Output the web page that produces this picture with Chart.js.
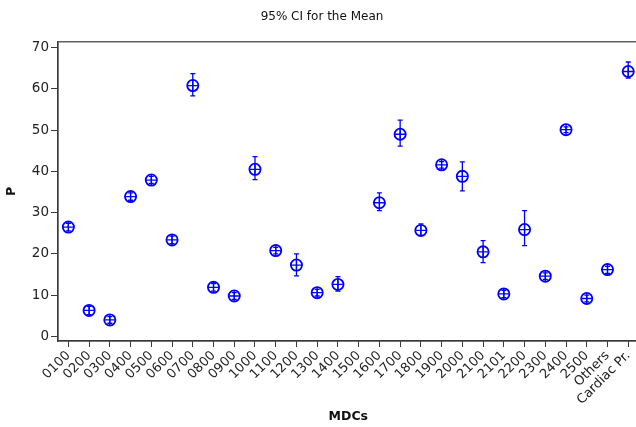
<!DOCTYPE html>
<html>
<head>
<meta charset="utf-8">
<script src="https://cdn.jsdelivr.net/npm/chart.js@4"></script>
<style>
  html, body { margin: 0; padding: 0; overflow: hidden; background: #fff; }
</style>
</head>
<body>
<canvas id="ciChart" width="646" height="427"></canvas>
<script>
const categories = ['0100', '0200', '0300', '0400', '0500', '0600', '0700', '0800', '0900', '1000',
    '1100', '1200', '1300', '1400', '1500', '1600', '1700', '1800', '1900', '2000',
    '2100', '2101', '2200', '2300', '2400', '2500', 'Others', 'Cardiac Pr.']
const means = [26.5, 6.3, 4.0, 33.9, 37.9, 23.4, 60.8, 11.9, 9.8, 40.5,
    20.8, 17.3, 10.6, 12.6, null, 32.4, 49.0, 25.7, 41.6, 38.8,
    20.5, 10.3, 25.9, 14.6, 50.1, 9.2, 16.2, 64.2]
const lower = [25.6, 5.3, 3.2, 33.0, 37.1, 22.5, 58.3, 11.0, 9.0, 38.0,
    20.0, 14.7, 9.8, 11.0, null, 30.5, 46.1, 24.5, 40.8, 35.3,
    17.9, 9.4, 22.0, 13.8, 49.4, 8.4, 15.3, 62.6]
const upper = [27.4, 7.3, 4.8, 34.8, 38.8, 24.3, 63.7, 12.8, 10.6, 43.6,
    21.6, 20.0, 11.4, 14.5, null, 34.8, 52.4, 27.3, 42.4, 42.3,
    23.2, 11.2, 30.5, 15.4, 50.8, 10.0, 17.0, 66.5]
const yTicks = [0, 10, 20, 30, 40, 50, 60, 70]

const blue = '#0000ff'
const axisColor = '#3a3a3a'
const fontFamily = '"DejaVu Sans", Verdana, sans-serif'

// draws the confidence interval whiskers through the chart scales
const errorBars = {
    id: 'errorBars',
    afterDatasetsDraw(chart) {
        const { ctx, scales: { x, y } } = chart
        ctx.save()
        ctx.strokeStyle = blue
        ctx.lineWidth = 1.3
        categories.forEach((c, i) => {
            if (lower[i] == null) return
            const px = x.getPixelForValue(i)
            const top = y.getPixelForValue(upper[i])
            const bot = y.getPixelForValue(lower[i])
            ctx.beginPath()
            ctx.moveTo(px, top); ctx.lineTo(px, bot)
            ctx.moveTo(px - 2.5, top); ctx.lineTo(px + 2.5, top)
            ctx.moveTo(px - 2.5, bot); ctx.lineTo(px + 2.5, bot)
            ctx.stroke()
        })
        ctx.restore()
    }
}

// box round the plot area
const frame = {
    id: 'frame',
    beforeDatasetsDraw(chart) {
        const { ctx, chartArea: a } = chart
        ctx.save()
        ctx.strokeStyle = axisColor
        ctx.lineWidth = 1.2
        ctx.strokeRect(a.left, a.top, a.right - a.left, a.bottom - a.top)
        ctx.restore()
    }
}

const ciChart = new Chart(
    document.getElementById('ciChart'),
    {
        type: 'line',
        data: {
            labels: categories,
            datasets: [
                {
                    label: 'Mean',
                    data: means,
                    showLine: false,
                    pointStyle: 'circle',
                    pointRadius: 5.6,
                    pointBorderWidth: 1.8,
                    pointBorderColor: blue,
                    pointBackgroundColor: 'rgba(0,0,0,0)',
                },
                {
                    label: 'Cross',
                    data: means,
                    showLine: false,
                    pointStyle: 'cross',
                    pointRadius: 5.6,
                    pointBorderWidth: 1.3,
                    pointBorderColor: blue,
                },
            ],
        },
        options: {
            responsive: false,
            animation: false,
            layout: {
                padding: { left: 4, right: 6, top: 0, bottom: 0 }
            },
            scales: {
                x: {
                    offset: true,
                    grid: {
                        offset: false,
                        drawOnChartArea: false,
                        drawTicks: true,
                        tickLength: 6,
                        color: axisColor,
                    },
                    border: { display: true, color: axisColor, width: 1.2 },
                    ticks: {
                        minRotation: 45,
                        maxRotation: 45,
                        autoSkip: false,
                        padding: 1,
                        color: '#222',
                        font: { family: fontFamily, size: 13 }
                    },
                    title: {
                        display: true,
                        text: 'MDCs',
                        color: '#111',
                        padding: { top: 0, bottom: 3 },
                        font: { family: fontFamily, size: 12.5, weight: 'bold' }
                    },
                    afterFit(scale) { scale.height = 86 }
                },
                y: {
                    min: -1.1,
                    max: 71.4,
                    afterBuildTicks(scale) { scale.ticks = yTicks.map(v => ({ value: v })) },
                    grid: {
                        drawOnChartArea: false,
                        drawTicks: true,
                        tickLength: 7,
                        color: axisColor,
                    },
                    border: { display: true, color: axisColor, width: 1.2 },
                    ticks: {
                        padding: 2,
                        color: '#222',
                        font: { family: fontFamily, size: 13.5 }
                    },
                    title: {
                        display: true,
                        text: 'P',
                        color: '#111',
                        padding: { top: 0, bottom: 3 },
                        font: { family: fontFamily, size: 12.5, weight: 'bold' }
                    },
                    afterFit(scale) { scale.width = 54 }
                }
            },
            plugins: {
                legend: { display: false },
                tooltip: { enabled: false },
                title: {
                    display: true,
                    text: '95% CI for the Mean',
                    color: '#111',
                    padding: { top: 10, bottom: 17.4 },
                    font: { family: fontFamily, size: 12, weight: 'normal' }
                }
            }
        },
        plugins: [frame, errorBars]
    }
)
</script>
</body>
</html>
